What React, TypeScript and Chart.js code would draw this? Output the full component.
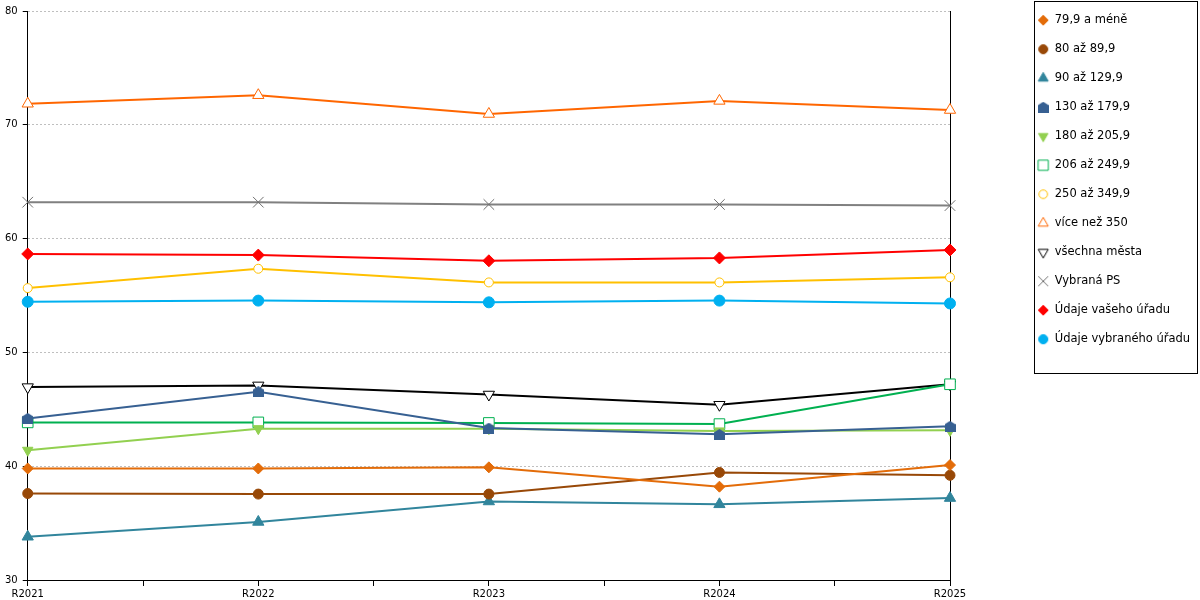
import { useEffect, useRef } from "react"
import { Chart, registerables } from "chart.js"
import { drawPoint } from "chart.js/helpers"

Chart.register(...registerables)

// years on the x axis
const years = ["R2021", "R2022", "R2023", "R2024", "R2025"]

// series values
const under80 = [39.8, 39.8, 39.9, 38.2, 40.1]
const from80 = [37.6, 37.55, 37.55, 39.45, 39.2]
const from90 = [33.8, 35.1, 36.9, 36.65, 37.2]
const from130 = [44.2, 46.55, 43.35, 42.8, 43.5]
const from180 = [41.4, 43.3, 43.3, 43.1, 43.15]
const from206 = [43.85, 43.85, 43.8, 43.7, 47.2]
const from250 = [55.65, 57.35, 56.15, 56.15, 56.6]
const over350 = [71.85, 72.6, 70.95, 72.1, 71.3]
const allCities = [46.95, 47.1, 46.3, 45.4, 47.2]
const selectedPS = [63.2, 63.2, 63.0, 63.0, 62.9]
const yourOffice = [58.65, 58.55, 58.05, 58.3, 59.0]
const selectedOffice = [54.45, 54.55, 54.4, 54.55, 54.3]

const yTicks = [30, 40, 50, 60, 70, 80]

const FONT = "'DejaVu Sans', sans-serif"

// little "house" marker used by the 130-179,9 series
function houseMarker(color: string) {
  const c = document.createElement("canvas")
  c.width = 11
  c.height = 11
  const g = c.getContext("2d")!
  g.fillStyle = color
  g.beginPath()
  g.moveTo(0, 3.5)
  g.lineTo(5.5, 0)
  g.lineTo(11, 3.5)
  g.lineTo(11, 11)
  g.lineTo(0, 11)
  g.closePath()
  g.fill()
  return c
}

// legend icons get their own size per marker type
function legendIcon(item: any, radius: number) {
  if (typeof item.pointStyle !== "string") return item.pointStyle
  const c = document.createElement("canvas")
  c.width = 14
  c.height = 14
  const g = c.getContext("2d")!
  g.fillStyle = item.fillStyle
  g.strokeStyle = item.strokeStyle
  g.lineWidth = item.lineWidth
  drawPoint(g, { pointStyle: item.pointStyle, rotation: item.rotation || 0, radius, borderWidth: item.lineWidth }, 7, 7)
  return c
}

function series(label: string, values: number[], color: string, marker: any) {
  return {
    label,
    data: values.map((y, i) => ({ x: i, y })),
    borderColor: color,
    backgroundColor: color,
    borderWidth: 2,
    tension: 0,
    clip: false as const,
    pointBorderColor: color,
    pointBackgroundColor: color,
    pointBorderWidth: 1,
    ...marker,
  }
}

// moves the legend to its place and boxes it in
const legendFrame = {
  id: "legendFrame",
  afterLayout(chart: any) {
    const lg = chart.legend
    if (!lg) return
    const w = lg.right - lg.left
    const h = lg.bottom - lg.top
    lg.left = 1020
    lg.right = lg.left + w
    lg.top = -3
    lg.bottom = lg.top + h
  },
  afterDraw(chart: any) {
    const lg = chart.legend
    if (!lg) return
    const ctx = chart.ctx
    const x0 = Math.round(lg.left + 14)
    const y0 = Math.round(lg.top + 4)
    ctx.save()
    ctx.strokeStyle = "#000"
    ctx.lineWidth = 1
    ctx.strokeRect(x0 + 0.5, y0 + 0.5, 1197 - x0, 372)
    ctx.restore()
  },
}

export default function App() {
  const canvasRef = useRef<HTMLCanvasElement>(null)
  const chartRef = useRef<Chart | null>(null)

  useEffect(() => {
    if (!canvasRef.current) return
    if (chartRef.current) chartRef.current.destroy()

    const open = "#FFFFFF"
    const datasets = [
      series("79,9 a méně", under80, "#E36C09", { pointStyle: "rectRot", pointRadius: 5.5 }),
      series("80 až 89,9", from80, "#984807", { pointStyle: "circle", pointRadius: 5 }),
      series("90 až 129,9", from90, "#31859C", { pointStyle: "triangle", pointRadius: 6.5 }),
      series("130 až 179,9", from130, "#376092", { pointStyle: houseMarker("#376092") }),
      series("180 až 205,9", from180, "#92D050", { pointStyle: "triangle", pointRotation: 180, pointRadius: 6 }),
      series("206 až 249,9", from206, "#00B050", {
        pointStyle: "rect",
        pointRadius: 7.5,
        pointBackgroundColor: open,
      }),
      series("250 až 349,9", from250, "#FFC000", {
        pointStyle: "circle",
        pointRadius: 4.5,
        pointBackgroundColor: open,
      }),
      series("více než 350", over350, "#FF6600", {
        pointStyle: "triangle",
        pointRadius: 6.5,
        pointBackgroundColor: open,
      }),
      series("všechna města", allCities, "#000000", {
        pointStyle: "triangle",
        pointRotation: 180,
        pointRadius: 6.5,
        pointBackgroundColor: open,
      }),
      series("Vybraná PS", selectedPS, "#808080", {
        pointStyle: "crossRot",
        pointRadius: 7.5,
        pointBorderColor: "#707070",
      }),
      series("Údaje vašeho úřadu", yourOffice, "#FF0000", { pointStyle: "rectRot", pointRadius: 6 }),
      series("Údaje vybraného úřadu", selectedOffice, "#00B0F0", { pointStyle: "circle", pointRadius: 5.5 }),
    ]

    // legend icon radius per series
    const iconRadius = [5, 4.5, 5.8, 0, 5.5, 7.2, 4.3, 5.8, 5.8, 7, 5, 4.6]

    chartRef.current = new Chart(canvasRef.current, {
      type: "line",
      data: { datasets },
      options: {
        responsive: true,
        maintainAspectRatio: false,
        animation: false,
        events: [],
        layout: { padding: { left: 0, top: 8, right: 0, bottom: -2 } },
        plugins: {
          tooltip: { enabled: false },
          legend: {
            position: "right",
            align: "start",
            labels: {
              usePointStyle: true,
              boxWidth: 12,
              boxHeight: 7,
              padding: 17.5,
              color: "#000",
              font: { family: FONT, size: 11.5 },
              generateLabels: (chart: any) =>
                Chart.defaults.plugins.legend.labels
                  .generateLabels(chart)
                  .map((it: any, i: number) => ({ ...it, pointStyle: legendIcon(it, iconRadius[i]), rotation: 0 })),
            },
          },
        },
        scales: {
          x: {
            type: "linear",
            min: 0,
            max: years.length - 1,
            grid: {
              drawOnChartArea: false,
              drawTicks: true,
              tickLength: 6,
              tickColor: "#000",
            },
            border: { color: "#000", width: 1 },
            ticks: {
              stepSize: 0.5,
              autoSkip: false,
              maxRotation: 0,
              padding: 2,
              color: "#000",
              font: { family: FONT, size: 10 },
              callback: (v: any) => (Number.isInteger(v) ? years[v] : ""),
            },
          },
          y: {
            min: yTicks[0],
            max: yTicks[yTicks.length - 1],
            afterBuildTicks: (scale: any) => {
              scale.ticks = yTicks.map((value) => ({ value }))
            },
            grid: {
              color: "#BFBFBF",
              tickColor: "#000",
              tickLength: 5,
            },
            border: { color: "#000", width: 1, dash: [2, 2] },
            ticks: {
              padding: 5,
              color: "#000",
              font: { family: FONT, size: 10 },
            },
          },
          y2: {
            position: "right",
            min: yTicks[0],
            max: yTicks[yTicks.length - 1],
            grid: { drawOnChartArea: false, drawTicks: false },
            border: { color: "#000", width: 1 },
            ticks: { display: false },
            afterFit: (scale: any) => {
              const lg = scale.chart.legend
              scale.width = Math.max(0, scale.chart.width - 950 - (lg ? lg.width : 0))
            },
          },
        },
      },
      plugins: [legendFrame],
    })

    return () => {
      chartRef.current?.destroy()
      chartRef.current = null
    }
  }, [])

  return (
    <div style={{ position: "fixed", left: 0, top: 0, width: 1200, height: 600, background: "#fff" }}>
      <canvas ref={canvasRef} />
    </div>
  )
}
